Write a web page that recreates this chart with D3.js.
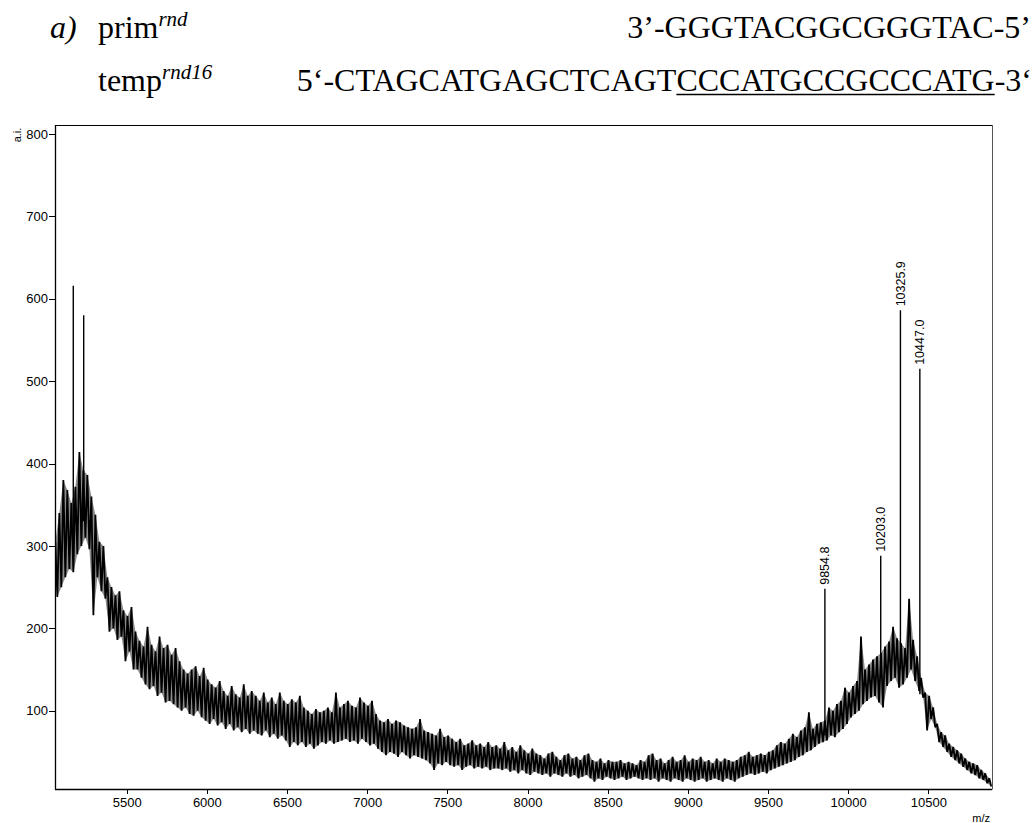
<!DOCTYPE html>
<html><head><meta charset="utf-8">
<script src="https://cdn.jsdelivr.net/npm/d3@7/dist/d3.min.js"></script>
<style>body{margin:0;background:#fff}</style>
</head><body><svg id="c" width="1035" height="823"></svg>
<script>
// Spectrum sampled every 25 m/z from 5055; per bin: upper and lower edge of the noise band (a.i.)
const mzStart = 5055, mzStep = 25;
const hi = [
 305,340,380,368,352,372,414,392,386,360,
 338,305,300,262,250,240,245,222,215,226,
 196,185,178,202,180,172,190,176,180,168,
 176,160,150,145,150,154,142,152,138,132,
 128,136,124,118,130,120,116,132,118,124,
 118,112,122,110,116,108,122,112,108,114,
 110,118,104,100,96,102,98,100,104,98,
 122,104,108,112,106,104,116,110,106,112,
 96,88,86,90,84,88,86,82,80,78,
 80,90,76,74,72,70,78,68,70,66,
 62,66,58,60,64,58,60,56,62,56,
 58,54,62,52,56,50,58,52,48,54,
 48,46,42,48,50,44,40,46,48,42,
 44,40,46,48,40,38,42,36,40,38,
 38,40,36,38,36,34,40,38,46,48,
 40,42,36,40,44,38,40,46,38,42,
 40,44,38,40,36,42,38,42,40,38,
 40,44,46,50,44,46,48,46,50,52,
 58,62,60,66,72,68,76,80,98,78,
 84,86,88,104,100,108,112,128,122,130,
 136,190,150,156,162,166,170,178,184,202,
 188,182,176,236,186,166,140,122,118,104,
 84,74,70,60,56,52,48,42,38,36,
 34,28,24,18
];
const lo = [
 238,250,262,272,268,290,300,310,296,216,
 262,245,236,196,200,186,190,160,172,150,
 150,140,132,126,130,118,122,110,112,108,
 104,100,104,96,94,100,92,88,84,90,
 82,86,78,84,76,80,74,78,72,76,
 72,70,76,68,72,66,70,64,56,62,
 58,62,56,60,54,58,62,60,64,60,
 62,64,66,62,64,60,66,62,58,60,
 54,50,46,50,48,44,50,46,42,46,
 44,42,40,36,28,36,34,38,34,32,
 34,28,32,34,30,32,30,32,28,30,
 30,28,30,26,28,24,28,24,22,26,
 24,22,24,20,24,22,20,24,20,22,
 18,20,22,18,14,18,16,20,18,16,
 18,20,16,18,20,18,16,18,16,18,
 14,18,16,14,18,16,14,18,16,14,
 16,18,14,16,18,16,14,18,16,14,
 18,20,22,24,22,24,26,24,28,30,
 32,34,36,38,40,44,46,50,52,56,
 60,62,64,70,68,74,78,84,92,96,
 100,108,112,116,118,110,104,130,136,140,
 128,132,140,150,136,124,116,76,90,80,
 62,56,50,44,40,36,32,28,24,22,
 18,16,12,8
];
// isolated sharp lines: position (m/z), band level at foot, apex (a.i.)
const spikeMz   = [5167, 5232];
const spikeBase = [300, 330];
const spikeTop  = [616, 580];
// labelled peaks
const peakMz     = [9854.8, 10203.0, 10325.9, 10447.0];
const peakBase   = [70, 140, 150, 120];
const peakTop    = [248, 288, 586, 515];
const peakLabels = ["9854.8", "10203.0", "10325.9", "10447.0"];
const xMajorTicks = [5500, 6000, 6500, 7000, 7500, 8000, 8500, 9000, 9500, 10000, 10500];
const yMajorTicks = [100, 200, 300, 400, 500, 600, 700, 800];

const svg = d3.select("#c");
svg.append("rect").attr("width",1035).attr("height",823).attr("fill","#fff");

const L = 55, R = 992, T = 125, B = 789;
const x = d3.scaleLinear().domain([5053, 10897]).range([L, R]);
const y = d3.scaleLinear().domain([5, 811]).range([B, T]);

// ---- header text
const serif = "'Liberation Serif','Times New Roman',serif";
const FS = 32;
const hdr = svg.append("g").attr("font-family", serif).attr("fill","#000");
const row1 = 38, row2 = 91;
hdr.append("text").attr("x",50).attr("y",row1).attr("font-size",FS).attr("font-style","italic").text("a)");
const p1 = hdr.append("text").attr("x",98).attr("y",row1).attr("font-size",FS);
p1.append("tspan").text("prim");
p1.append("tspan").attr("font-style","italic").attr("font-size",21).attr("dy",-12).text("rnd");
hdr.append("text").attr("x",1031).attr("y",row1).attr("font-size",FS).attr("text-anchor","end").text("3’-GGGTACGGCGGGTAC-5’");
const t2 = hdr.append("text").attr("x",98).attr("y",row2).attr("font-size",FS);
t2.append("tspan").text("temp");
t2.append("tspan").attr("font-style","italic").attr("font-size",21).attr("dy",-12).text("rnd16");
const seq2 = hdr.append("text").attr("x",1032).attr("y",row2).attr("font-size",FS).attr("text-anchor","end");
const partA = "5‘-CTAGCATGAGCTCAGT", partB = "CCCATGCCGCCCATG", partC = "-3‘";
seq2.text(partA + partB + partC);
const sn = seq2.node();
const u0 = sn.getStartPositionOfChar(partA.length).x;
const u1 = sn.getEndPositionOfChar(partA.length + partB.length - 1).x;
hdr.append("line").attr("x1",u0).attr("x2",u1).attr("y1",row2+3.5).attr("y2",row2+3.5)
   .attr("stroke","#000").attr("stroke-width",1.5);

// ---- axes
const sans = "'Liberation Sans',Arial,Helvetica,sans-serif";
const minorX = d3.range(5100, 10900, 100).filter(v => v % 500 !== 0);
const minorY = d3.range(20, 811, 20).filter(v => v % 100 !== 0);

const gx = svg.append("g").attr("transform",`translate(0,${B})`);
gx.call(d3.axisBottom(x).tickValues(minorX).tickSize(3).tickFormat("").tickSizeOuter(0));
gx.call(d3.axisBottom(x).tickValues(xMajorTicks).tickSize(5).tickPadding(4).tickFormat(d3.format("d")).tickSizeOuter(0));
const gy = svg.append("g").attr("transform",`translate(${L},0)`);
gy.call(d3.axisLeft(y).tickValues(minorY).tickSize(3).tickFormat("").tickSizeOuter(0));
gy.call(d3.axisLeft(y).tickValues(yMajorTicks).tickSize(6).tickPadding(1).tickFormat(d3.format("d")).tickSizeOuter(0));
svg.selectAll(".domain").remove();
svg.selectAll(".tick line").attr("stroke","#000").attr("shape-rendering","crispEdges");
svg.selectAll(".tick text").attr("font-family",sans).attr("font-size",13).attr("fill","#000");

// frame
svg.append("line").attr("x1",L+0.5).attr("x2",L+0.5).attr("y1",T).attr("y2",B+0.5).attr("stroke","#000").attr("stroke-width",1.3);
svg.append("line").attr("x1",L).attr("x2",R).attr("y1",B+0.5).attr("y2",B+0.5).attr("stroke","#000").attr("stroke-width",1.3);
svg.append("line").attr("x1",L).attr("x2",R).attr("y1",T+0.5).attr("y2",T+0.5).attr("stroke","#000").attr("stroke-width",1);
svg.append("line").attr("x1",R+0.5).attr("x2",R+0.5).attr("y1",T).attr("y2",B+0.5).attr("stroke","#555").attr("stroke-width",1);

// axis titles
svg.append("text").attr("transform","translate(20.5,135) rotate(-90)").attr("text-anchor","middle")
   .attr("font-family",sans).attr("font-size",11).text("a.i.");
svg.append("text").attr("x",990).attr("y",822).attr("text-anchor","end")
   .attr("font-family",sans).attr("font-size",11).text("m/z");

// ---- spectrum
svg.append("clipPath").attr("id","clip").append("rect").attr("x",L).attr("y",T).attr("width",R-L).attr("height",B-T);
const bins = hi.map((h,i) => ({m: mzStart + i*mzStep, h, l: lo[i]}));
const plot = svg.append("g").attr("clip-path","url(#clip)");
// shading of the dense noise band
plot.append("path").datum(bins)
  .attr("d", d3.area().x1(d=>x(d.m)).y1(d=>y(d.h)).x0(d=>x(d.m+mzStep/2)).y0(d=>y(d.l)))
  .attr("fill","#000").attr("fill-opacity",0.45);
// noise trace (max/min per bin)
const pts = [];
bins.forEach(d => { pts.push([x(d.m), y(d.h)]); pts.push([x(d.m + mzStep/2), y(d.l)]); });
plot.append("path").attr("d", d3.line()(pts)).attr("fill","none").attr("stroke","#000")
    .attr("stroke-width",1.8).attr("stroke-linejoin","miter").attr("stroke-miterlimit",2);

plot.selectAll("line.sp").data(spikeMz).join("line").attr("class","sp")
  .attr("x1",d=>x(d)).attr("x2",d=>x(d))
  .attr("y1",(d,i)=>y(spikeBase[i])).attr("y2",(d,i)=>y(spikeTop[i]))
  .attr("stroke","#000").attr("stroke-width",1.4);

plot.selectAll("line.pk").data(peakMz).join("line").attr("class","pk")
  .attr("x1",d=>x(d)).attr("x2",d=>x(d))
  .attr("y1",(d,i)=>y(peakBase[i])).attr("y2",(d,i)=>y(peakTop[i]))
  .attr("stroke","#000").attr("stroke-width",1.4);

svg.selectAll("text.pl").data(peakMz).join("text").attr("class","pl")
  .attr("transform",(d,i)=>`translate(${x(d)+4.5},${y(peakTop[i])-4}) rotate(-90)`)
  .attr("font-family",sans).attr("font-size",12.5).attr("fill","#000")
  .text((d,i)=>peakLabels[i]);
</script></body></html>
